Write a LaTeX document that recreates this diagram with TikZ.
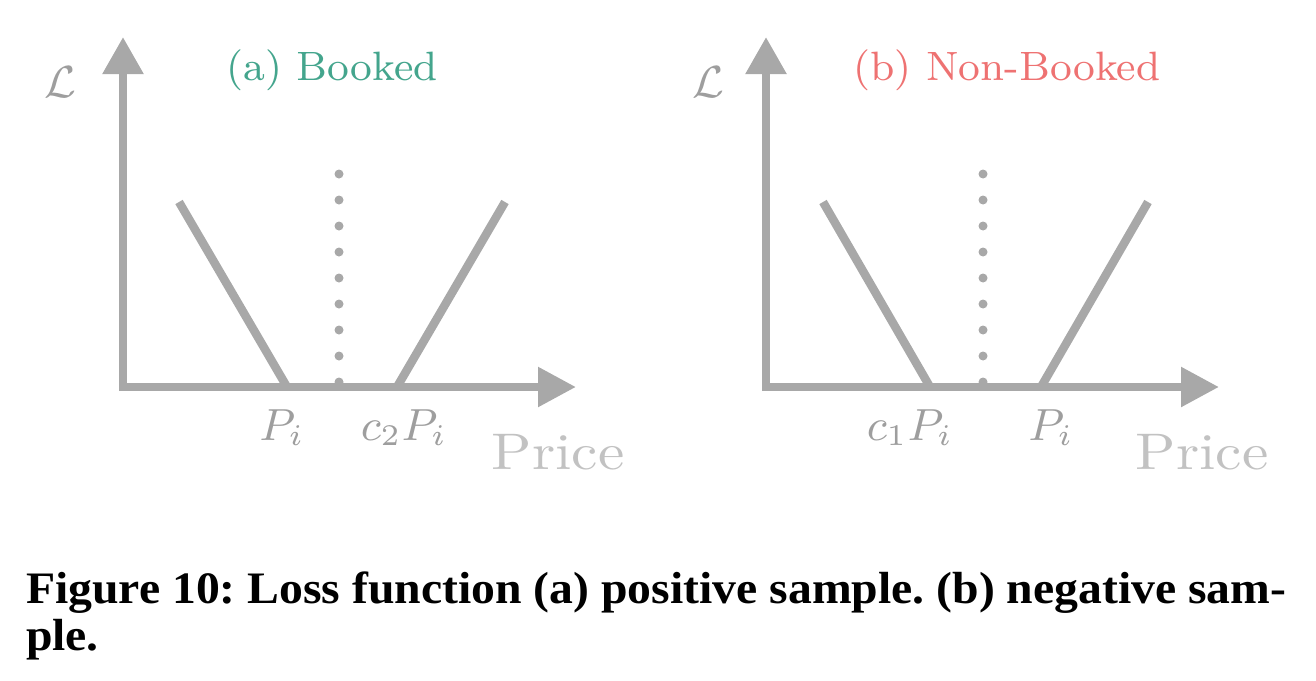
\documentclass[tikz,border=0pt]{standalone}
\usepackage{fontspec}
\usetikzlibrary{arrows.meta}
\newfontfamily\capfont{Liberation Serif}
\definecolor{axisgray}{HTML}{A8A8A8}
\definecolor{labgray}{HTML}{9E9E9E}
\definecolor{pricegray}{HTML}{C2C2C2}
\definecolor{tealc}{HTML}{44A58D}
\definecolor{redc}{HTML}{EE7272}
\tikzset{
  axisline/.style={draw=axisgray, line width=1.7pt},
  yaxisarrow/.style={axisline, -{Triangle[length=7.4pt,width=7.8pt]}},
  xaxisarrow/.style={axisline, -{Triangle[length=7.6pt,width=7.6pt]}},
  lossline/.style={draw=axisgray, line width=1.7pt},
  dotmark/.style={fill=axisgray, draw=none},
  mathlab/.style={text=labgray, font=\fontsize{8.8}{10}\selectfont, inner sep=0pt},
  calL/.style={text=labgray, font=\fontsize{9}{10}\selectfont, inner sep=0pt},
  pricelab/.style={text=pricegray, font=\fontsize{10.3}{12}\selectfont, inner sep=0pt},
  titlelab/.style={font=\fontsize{8.2}{10}\selectfont, inner sep=0pt},
  captext/.style={font=\capfont\bfseries\fontsize{9}{10}\selectfont, inner sep=0pt, anchor=base west}
}
\begin{document}
\frenchspacing
\begin{tikzpicture}[x=0.2pt, y=-0.2pt]
\useasboundingbox (0,0) rectangle (1316,680);
% ---------- panel (a)
\foreach \k in {0,...,8} {\fill[dotmark] (339,174+26*\k) circle (4.5);}
\coordinate (aYt) at (123,37);
\coordinate (aXs) at (119,387);
\coordinate (aXt) at (576,387);
\coordinate (aL1) at (179,202);
\coordinate (aL2) at (287,387);
\coordinate (aR1) at (397,387);
\coordinate (aR2) at (505,202);
\draw[lossline] (aL1) -- (aL2);
\draw[lossline] (aR1) -- (aR2);
\draw[yaxisarrow] (123,391) -- (aYt);
\draw[xaxisarrow] (aXs) -- (aXt);
\node[calL] (aLab) at (60,82) {$\mathcal{L}$};
\node[titlelab, text=tealc] (aTitle) at (332,70) {(a) Booked};
\node[mathlab] (aP) at (282,428) {$P_i$};
\node[mathlab] (aC) at (404,428) {$c_2P_i$};
\node[pricelab] (aPrice) at (558,452) {\scalebox{1.15}[1]{Price}};
% ---------- panel (b)
\foreach \k in {0,...,8} {\fill[dotmark] (983,174+26*\k) circle (4.5);}
\coordinate (bYt) at (766,37);
\coordinate (bXs) at (762,387);
\coordinate (bXt) at (1219,387);
\coordinate (bL1) at (823,202);
\coordinate (bL2) at (930,387);
\coordinate (bR1) at (1041,387);
\coordinate (bR2) at (1148,202);
\draw[lossline] (bL1) -- (bL2);
\draw[lossline] (bR1) -- (bR2);
\draw[yaxisarrow] (766,391) -- (bYt);
\draw[xaxisarrow] (bXs) -- (bXt);
\node[calL] (bLab) at (708,82) {$\mathcal{L}$};
\node[titlelab, text=redc] (bTitle) at (1007,70) {(b) Non-Booked};
\node[mathlab] (bC) at (910,428) {$c_1P_i$};
\node[mathlab] (bP) at (1051,428) {$P_i$};
\node[pricelab] (bPrice) at (1202,452) {\scalebox{1.15}[1]{Price}};
% ---------- caption
\node[captext] (cap1) at (25,603) {\scalebox{1.06}[1]{Figure 10: Loss function (a) positive sample. (b) negative sam-}};
\node[captext] (cap2) at (25,650) {\scalebox{1.06}[1]{ple.}};
\end{tikzpicture}
\end{document}
